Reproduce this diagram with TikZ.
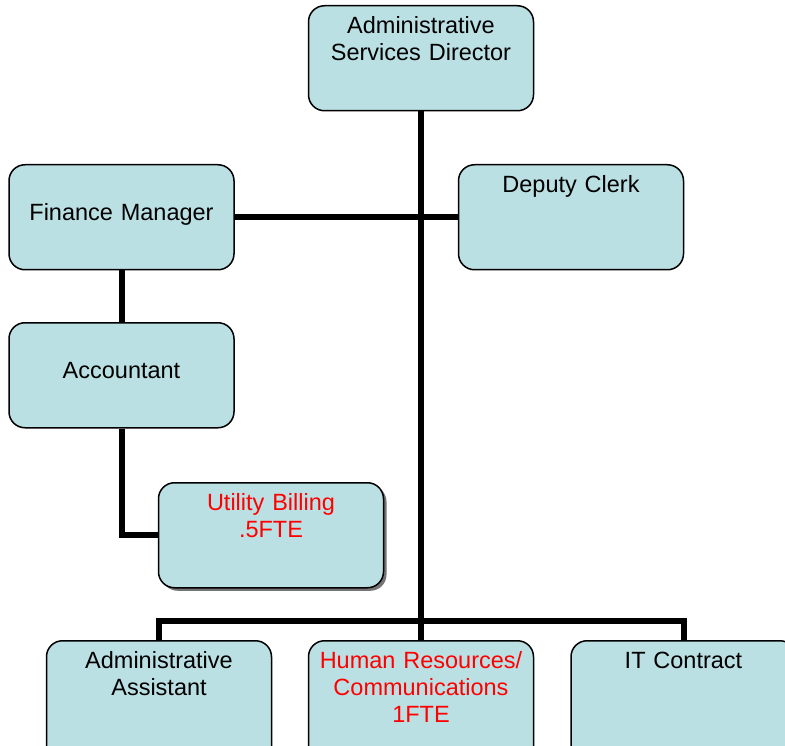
\documentclass[tikz,border=0pt]{standalone}
\usepackage{fontspec}
\setmainfont{Liberation Sans}
\usetikzlibrary{backgrounds,shadows,positioning}
\definecolor{fondboite}{RGB}{187,224,227}

\begin{document}
\begin{tikzpicture}[%
    x=1pt, y=-1pt,%
    show background rectangle,%
    tight background,%
    background rectangle/.style={fill=white}%
  ]
  %
% Styles
%
\tikzset{every node/.style={font=\fontsize{23.5}{27}\selectfont}};%
\tikzset{boite/.style={draw=black, line width=1.5pt, fill=fondboite, rounded corners=16pt, minimum width=225pt, minimum height=105pt, text width=215pt, align=center, inner sep=5pt, anchor=north}};%
\tikzset{boite haut/.style={boite, text height=23pt, text depth=72pt}};%
\tikzset{boite milieu/.style={boite, text height=51pt, text depth=44pt}};%
\tikzset{boite bas/.style={boite haut, text depth=95pt}};%
\tikzset{ombre/.style={drop shadow={shadow xshift=3pt, shadow yshift=-3pt, fill=black!60, opacity=0.9}}};%
\tikzset{liaison/.style={line width=6pt, black}};%

\useasboundingbox (0,0) rectangle (785,746);%

%
% Boxes
%
\node[boite haut] (directeur) at (421,5) {Administrative\\Services Director};%
\node[boite milieu] (finances) at (121.5,164) {Finance Manager};%
\node[boite haut] (greffier) at (571,164) {Deputy Clerk};%
\node[boite milieu] (comptable) at (121.5,322) {Accountant};%
\node[boite haut, ombre, text=red] (facturation) at (271,482) {Utility Billing\\.5FTE};%
\node[boite bas] (assistant) at (159,640) {Administrative\\Assistant};%
\node[boite bas, text=red] (rh) at (421,640) {Human Resources/\\Communications\\1FTE};%
\node[boite bas] (informatique) at (683.5,640) {IT Contract};%

%
% Links
%
\coordinate (bus) at (421,621);%
\draw[liaison] (directeur.south) -- (bus);%
\draw[liaison] (finances.east) -- (greffier.west);%
\draw[liaison] (finances.south) -- (comptable.north);%
\draw[liaison] (comptable.south) |- (facturation.west);%
\draw[liaison] (assistant.north) |- (bus) -| (informatique.north);%
\draw[liaison] (bus) -- (rh.north);%
\end{tikzpicture}
\end{document}
